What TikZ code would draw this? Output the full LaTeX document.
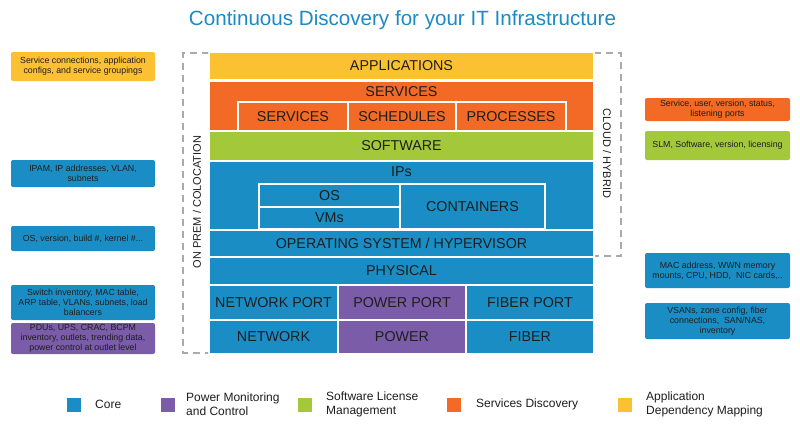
\documentclass[tikz,border=0pt]{standalone}
\usepackage{fontspec}
\setmainfont{Liberation Sans}
\definecolor{cblue}{HTML}{1A8DC5}
\definecolor{cpurple}{HTML}{7A5CA9}
\definecolor{cgreen}{HTML}{A3C93A}
\definecolor{corange}{HTML}{F26A25}
\definecolor{cyellow}{HTML}{FBC133}
\definecolor{ctxt}{HTML}{1E1E1E}
\definecolor{ctitle}{HTML}{1C8AC4}
\definecolor{cdash}{HTML}{AAAAAA}
\tikzset{
  blk/.style={rectangle, inner sep=0pt, draw=white, line width=1.6pt, text=ctxt,
    font=\fontsize{14.3}{16}\selectfont},
  inblk/.style={blk, line width=1.1pt},
  lbl/.style={inner sep=0pt, text=ctxt, font=\fontsize{14.3}{16}\selectfont},
  info/.style={rectangle, rounded corners=2pt, inner sep=0pt, text=ctxt, align=center,
    font=\fontsize{8.8}{10.2}\selectfont, minimum width=144pt},
  sidelbl/.style={inner sep=0pt, text=ctxt, font=\fontsize{11}{13}\selectfont},
  frame/.style={draw=cdash, line width=1.4pt, dash pattern=on 7pt off 5pt},
  lsq/.style={rectangle, inner sep=0pt, minimum width=14pt, minimum height=14pt},
  ltxt/.style={inner sep=0pt, anchor=west, text=ctxt, align=left,
    font=\fontsize{12}{14}\selectfont},
}
\begin{document}
\begin{tikzpicture}[x=1pt,y=-1pt]
\useasboundingbox[fill=white] (0,0) rectangle (800,424);
% title
\node[text=ctitle, font=\fontsize{20.6}{24}\selectfont, inner sep=0pt] (title) at (402.5,20) {Continuous Discovery for your IT Infrastructure};
% dashed frame
\coordinate (fl1) at (209,53);
\coordinate (fl2) at (183,53);
\coordinate (fl3) at (183,353);
\coordinate (fl4) at (209,353);
\coordinate (fr1) at (594,53);
\coordinate (fr2) at (621,53);
\coordinate (fr3) at (621,256);
\coordinate (fr4) at (594,256);
\draw[frame] (fl1) -- (fl2) -- (fl3) -- (fl4);
\draw[frame] (fr1) -- (fr2) -- (fr3) -- (fr4);
\node[sidelbl, rotate=90] (onprem) at (197,202) {ON PREM / COLOCATION};
\node[sidelbl, rotate=-90] (cloud) at (607,153.5) {CLOUD / HYBRID};
% stack
\node[blk, fill=cyellow, minimum width=385pt, minimum height=27pt] (app) at (401.5,66) {APPLICATIONS};
\node[blk, fill=corange, minimum width=385pt, minimum height=50pt] (srv) at (401.5,106) {};
\node[lbl] (srvt) at (401.5,92) {SERVICES};
\node[inblk, fill=corange, minimum width=110pt, minimum height=29pt] (s1) at (293,116.5) {SERVICES};
\node[inblk, fill=corange, minimum width=108pt, minimum height=29pt] (s2) at (402,116.5) {SCHEDULES};
\node[inblk, fill=corange, minimum width=110pt, minimum height=29pt] (s3) at (511,116.5) {PROCESSES};
\node[blk, fill=cgreen, minimum width=385pt, minimum height=29pt] (sw) at (401.5,146) {SOFTWARE};
\node[blk, fill=cblue, minimum width=385pt, minimum height=69pt] (ips) at (401.5,196) {};
\node[lbl] (ipst) at (401.5,172) {IPs};
\node[inblk, fill=cblue, minimum width=141pt, minimum height=23pt] (os) at (329.5,195.5) {OS};
\node[inblk, fill=cblue, minimum width=141pt, minimum height=22pt] (vms) at (329.5,218) {VMs};
\node[inblk, fill=cblue, minimum width=145pt, minimum height=45pt] (cont) at (472.5,206.5) {CONTAINERS};
\node[blk, fill=cblue, minimum width=385pt, minimum height=27pt] (osh) at (401.5,243.5) {OPERATING SYSTEM / HYPERVISOR};
\node[blk, fill=cblue, minimum width=385pt, minimum height=28pt] (phys) at (401.5,271) {PHYSICAL};
\node[blk, fill=cblue, minimum width=129pt, minimum height=35pt] (np) at (273.5,302.5) {NETWORK PORT};
\node[blk, fill=cpurple, minimum width=128pt, minimum height=35pt] (pp) at (402,302.5) {POWER PORT};
\node[blk, fill=cblue, minimum width=128pt, minimum height=35pt] (fp) at (530,302.5) {FIBER PORT};
\node[blk, fill=cblue, minimum width=129pt, minimum height=34pt] (nw) at (273.5,337) {NETWORK};
\node[blk, fill=cpurple, minimum width=128pt, minimum height=34pt] (pw) at (402,337) {POWER};
\node[blk, fill=cblue, minimum width=128pt, minimum height=34pt] (fb) at (530,337) {FIBER};
% left info boxes
\node[info, fill=cyellow, minimum height=29pt] (i1) at (83,66.5) {Service connections, application\\configs, and service groupings};
\node[info, fill=cblue, minimum height=27pt] (i2) at (83,173.5) {IPAM, IP addresses, VLAN,\\subnets};
\node[info, fill=cblue, minimum height=25pt] (i3) at (83,238.5) {OS, version, build \#, kernel \#...};
\node[info, fill=cblue, minimum height=35pt] (i4) at (83,302.5) {Switch inventory, MAC table,\\ARP table, VLANs, subnets, load\\balancers};
\node[info, fill=cpurple, minimum height=31pt] (i5) at (83,338.5) {PDUs, UPS, CRAC, BCPM\\inventory, outlets, trending data,\\power control at outlet level};
% right info boxes
\node[info, fill=corange, minimum width=145pt, minimum height=23pt] (r1) at (717.5,109.5) {Service, user, version, status,\\listening ports};
\node[info, fill=cgreen, minimum width=145pt, minimum height=29pt] (r2) at (717.5,145.5) {SLM, Software, version, licensing};
\node[info, fill=cblue, minimum width=145pt, minimum height=35pt] (r3) at (717.5,270.5) {MAC address, WWN memory\\mounts, CPU, HDD,\ \ NIC cards,..};
\node[info, fill=cblue, minimum width=145pt, minimum height=36pt] (r4) at (717.5,321) {VSANs, zone config, fiber\\connections,\ \ SAN/NAS,\\inventory};
% legend
\node[lsq, fill=cblue] (q1) at (73.5,404.5) {};
\node[ltxt] (t1) at (95,404.5) {Core};
\node[lsq, fill=cpurple] (q2) at (167.5,404.5) {};
\node[ltxt] (t2) at (186,404.5) {Power Monitoring\\and Control};
\node[lsq, fill=cgreen] (q3) at (304.5,404.5) {};
\node[ltxt] (t3) at (326,404.5) {Software License\\Management};
\node[lsq, fill=corange] (q4) at (454,404.5) {};
\node[ltxt] (t4) at (476,404.5) {Services Discovery};
\node[lsq, fill=cyellow] (q5) at (624.5,404.5) {};
\node[ltxt] (t5) at (646,404.5) {Application\\Dependency Mapping};
\end{tikzpicture}
\end{document}
